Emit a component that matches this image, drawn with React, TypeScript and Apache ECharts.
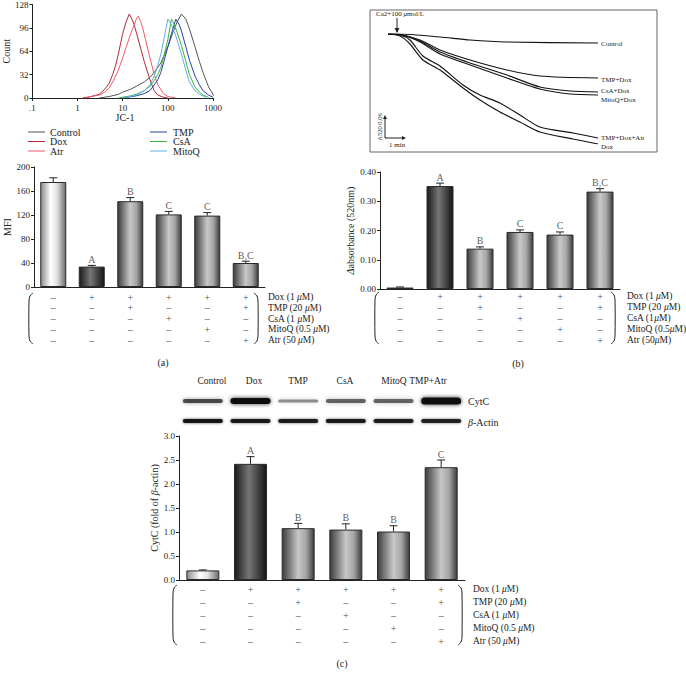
import React, { useEffect, useRef } from "react";
import * as echarts from "echarts";

const FONT = "'Liberation Serif', 'DejaVu Serif', serif";

// ---------- Panel (a) histogram: JC-1 vs Count ----------
const histNames = ["Control", "Dox", "Atr", "TMP", "CsA", "MitoQ"];
const histColors = ["#555555", "#b02838", "#f05868", "#2840a8", "#38b838", "#60aee8"];
const histControl = [[3, 0], [5, 2], [8, 5], [10, 8], [15, 12], [20, 16], [30, 22], [40, 28], [50, 35], [70, 48], [100, 70], [130, 90], [160, 104], [200, 115], [250, 108], [300, 95], [400, 70], [500, 50], [600, 35], [800, 15], [1000, 5], [1150, 0]];
const histDox = [[1.3, 0], [2, 2], [3, 5], [4, 12], [5, 20], [6, 32], [7, 45], [8, 60], [9, 75], [10, 88], [12, 105], [14, 115], [16, 108], [18, 100], [20, 90], [25, 68], [30, 50], [40, 25], [50, 10], [60, 4], [80, 1], [100, 0]];
const histAtr = [[1.5, 0], [2, 2], [3, 4], [4, 8], [5, 14], [6, 22], [8, 38], [10, 55], [12, 70], [15, 88], [18, 100], [20, 108], [22, 112], [25, 105], [28, 95], [32, 80], [40, 55], [50, 32], [60, 18], [80, 6], [100, 2], [150, 0]];
const histTMP = [[10, 0], [20, 3], [30, 6], [40, 10], [50, 18], [60, 25], [70, 35], [80, 48], [100, 70], [120, 88], [150, 108], [180, 100], [200, 92], [250, 70], [300, 52], [400, 30], [500, 18], [600, 10], [800, 4], [1000, 1]];
const histCsA = [[8, 0], [15, 3], [20, 5], [30, 10], [40, 16], [50, 24], [60, 32], [70, 42], [80, 55], [100, 80], [120, 108], [140, 100], [160, 90], [200, 72], [250, 50], [300, 32], [400, 15], [500, 8], [600, 4], [800, 1]];
const histMitoQ = [[10, 0], [20, 4], [30, 10], [40, 18], [50, 30], [60, 45], [70, 60], [80, 78], [100, 108], [120, 100], [150, 85], [200, 60], [250, 38], [300, 22], [400, 10], [500, 5], [700, 1]];
const histData = [histControl, histDox, histAtr, histTMP, histCsA, histMitoQ];

// ---------- Treatment table (shared) ----------
const rowDox = [0, 1, 1, 1, 1, 1];
const rowTMP = [0, 0, 1, 0, 0, 1];
const rowCsA = [0, 0, 0, 1, 0, 0];
const rowMitoQ = [0, 0, 0, 0, 1, 0];
const rowAtr = [0, 0, 0, 0, 0, 1];
const treatRows = [rowDox, rowTMP, rowCsA, rowMitoQ, rowAtr];
const labelsA = ["Dox (1 {i|μ}M)", "TMP (20 {i|μ}M)", "CsA (1 {i|μ}M)", "MitoQ (0.5 {i|μ}M)", "Atr (50 {i|μ}M)"];
const labelsB = ["Dox (1 {i|μ}M)", "TMP (20 {i|μ}M)", "CsA (1{i|μ}M)", "MitoQ (0.5{i|μ}M)", "Atr (50{i|μ}M)"];

// ---------- Panel (a) MFI ----------
const mfiValues = [175, 34, 143, 121, 119, 40];
const mfiErrors = [7, 2, 6, 5, 5, 3];
const mfiLetters = ["", "A", "B", "C", "C", "B,C"];

// ---------- Panel (b) swelling traces ----------
const traceNames = ["Control", "TMP+Dox", "CsA+Dox", "MitoQ+Dox", "TMP+Dox+Atr", "Dox"];
const traceControl = [[0, 0], [0.67, 0], [2.89, 0.009], [4.56, 0.018], [6.61, 0.024], [11.67, 0.027]];
const traceTMPDox = [[0, 0], [0.67, 0.0015], [1.78, 0.018], [2.89, 0.048], [4.56, 0.078], [6.61, 0.108], [8.44, 0.126], [11.67, 0.132]];
const traceCsADox = [[0, 0], [0.67, 0.0015], [1.78, 0.021], [2.89, 0.054], [4.56, 0.087], [6.61, 0.123], [8.44, 0.159], [10.11, 0.171], [11.67, 0.174]];
const traceMitoQDox = [[0, 0], [0.67, 0.0015], [1.78, 0.024], [2.89, 0.06], [4.56, 0.093], [6.61, 0.132], [8.44, 0.165], [10.11, 0.18], [11.67, 0.183]];
const traceTMPDoxAtr = [[0, 0], [0.67, 0.003], [1.22, 0.018], [1.94, 0.066], [2.89, 0.096], [4.17, 0.153], [5.11, 0.183], [6.22, 0.207], [7.33, 0.243], [8.44, 0.279], [10.28, 0.297], [11.67, 0.312]];
const traceDox = [[0, 0], [0.67, 0.006], [1.22, 0.03], [1.94, 0.078], [2.89, 0.108], [4.17, 0.162], [5.11, 0.198], [6.22, 0.234], [7.33, 0.264], [8.44, 0.294], [10.28, 0.315], [11.67, 0.33]];
const traceData = [traceControl, traceTMPDox, traceCsADox, traceMitoQDox, traceTMPDoxAtr, traceDox];
const traceLabelY = [44, 80, 91, 100, 138, 147];

// ---------- Panel (b) absorbance ----------
const absValues = [0.005, 0.352, 0.138, 0.195, 0.186, 0.333];
const absErrors = [0.002, 0.01, 0.006, 0.007, 0.009, 0.01];
const absLetters = ["", "A", "B", "C", "C", "B,C"];

// ---------- Panel (c) CytC ----------
const blotLanes = ["Control", "Dox", "TMP", "CsA", "MitoQ", "TMP+Atr"];
const blotLaneLabelX = [212, 254, 298, 345, 394, 428];
const cytcIntensity = [0.7, 1.0, 0.45, 0.6, 0.6, 1.0];
const cytcThickness = [4, 6, 3, 4, 4, 7];
const actinIntensity = [0.95, 0.92, 0.9, 0.92, 0.9, 0.88];
const actinThickness = [4, 4, 4, 4, 4, 4];
const cytcValues = [0.2, 2.42, 1.08, 1.05, 1.01, 2.35];
const cytcErrors = [0.01, 0.15, 0.1, 0.12, 0.12, 0.15];
const cytcLetters = ["", "A", "B", "B", "B", "C"];

const barStyleKinds = ["white", "dark", "mid", "mid", "mid", "mid"];

function grad(kind: string) {
  if (kind === "white")
    return new echarts.graphic.LinearGradient(0, 0, 1, 0, [
      { offset: 0, color: "#8a8a8a" }, { offset: 0.4, color: "#ffffff" },
      { offset: 0.65, color: "#e2e2e2" }, { offset: 1, color: "#6a6a6a" }]);
  if (kind === "dark")
    return new echarts.graphic.LinearGradient(0, 0, 1, 0, [
      { offset: 0, color: "#1a1a1a" }, { offset: 0.45, color: "#767676" },
      { offset: 0.7, color: "#4a4a4a" }, { offset: 1, color: "#151515" }]);
  return new echarts.graphic.LinearGradient(0, 0, 1, 0, [
    { offset: 0, color: "#3c3c3c" }, { offset: 0.5, color: "#c8c8c8" },
    { offset: 0.75, color: "#a4a4a4" }, { offset: 1, color: "#3c3c3c" }]);
}

function barSeries(xi: number, values: number[], width: number) {
  return {
    type: "bar", xAxisIndex: xi, yAxisIndex: xi, barWidth: width, z: 3,
    data: values.map((v, i) => ({
      value: v,
      itemStyle: { color: grad(barStyleKinds[i]), borderColor: "#2a2a2a", borderWidth: 1 },
    })),
  };
}

function errSeries(xi: number, values: number[], errs: number[], cap: number) {
  return {
    type: "custom", xAxisIndex: xi, yAxisIndex: xi, clip: false, z: 5, silent: true,
    itemStyle: { color: "#222" },
    data: values.map((v, i) => [i, v, errs[i]]),
    renderItem: (params: any, api: any) => {
      const i = api.value(0), v = api.value(1), e = api.value(2);
      const p0 = api.coord([i, v]);
      const p1 = api.coord([i, v + e]);
      return {
        type: "group",
        children: [
          { type: "line", shape: { x1: p0[0], y1: p0[1], x2: p1[0], y2: p1[1] }, style: { stroke: "#222", lineWidth: 1 } },
          { type: "line", shape: { x1: p1[0] - cap, y1: p1[1], x2: p1[0] + cap, y2: p1[1] }, style: { stroke: "#222", lineWidth: 1 } },
        ],
      };
    },
  };
}

function letterSeries(xi: number, values: number[], errs: number[], letters: string[]) {
  return {
    type: "scatter", xAxisIndex: xi, yAxisIndex: xi, symbolSize: 0, silent: true, z: 6, clip: false,
    data: values.map((v, i) => ({ name: letters[i], value: [i, v + errs[i]] })),
    label: {
      show: true, position: "top", distance: 1, formatter: "{b}",
      color: "#333", fontFamily: FONT, fontSize: 10,
    },
  };
}

function tableSeries(xi: number, offset: number, spacing: number) {
  const data: any[] = [];
  treatRows.forEach((row, r) =>
    row.forEach((s, c) =>
      data.push({ name: s ? "+" : "–", value: [c, 0], label: { offset: [0, offset + r * spacing] } })));
  return {
    type: "scatter", xAxisIndex: xi, yAxisIndex: xi, symbolSize: 0, silent: true, z: 6, clip: false,
    data,
    label: {
      show: true, position: "inside", formatter: "{b}",
      color: "#111", fontFamily: FONT, fontSize: 10,
    },
  };
}

function blotSeries(xi: number) {
  return {
    type: "custom", xAxisIndex: xi, yAxisIndex: xi, clip: false, silent: true, z: 2,
    itemStyle: { color: "#111" },
    data: blotLanes.map((_, i) => [i, 0]),
    renderItem: (params: any, api: any) => {
      const i = api.value(0);
      const top = api.coord([i, 3.0]);
      const cx = top[0];
      const w = 40;
      const yc = top[1] - 35;
      const ya = top[1] - 15;
      const ci = cytcIntensity[i], ch = cytcThickness[i];
      const ai = actinIntensity[i], ah = actinThickness[i];
      return {
        type: "group",
        children: [
          { type: "rect", shape: { x: cx - w / 2, y: yc - ch / 2, width: w, height: ch, r: ch / 2 },
            style: { fill: `rgba(15,15,15,${ci})`, shadowBlur: 4, shadowColor: `rgba(15,15,15,${ci * 0.8})` } },
          { type: "rect", shape: { x: cx - w / 2, y: ya - ah / 2, width: w, height: ah, r: ah / 2 },
            style: { fill: `rgba(15,15,15,${ai})`, shadowBlur: 3, shadowColor: `rgba(15,15,15,${ai * 0.7})` } },
        ],
      };
    },
  };
}

function valueYAxis(gi: number, min: number, max: number, interval: number, name: string, nameGap: number, digits: number) {
  return {
    type: "value", gridIndex: gi, min, max, interval, name, nameLocation: "middle", nameGap,
    nameTextStyle: { fontFamily: FONT, fontSize: 10, color: "#222", rich: { i: { fontFamily: FONT, fontSize: 10, fontStyle: "italic", color: "#222" } } },
    axisLine: { show: true, lineStyle: { color: "#222", width: 1 } },
    axisTick: { show: true, length: 3, lineStyle: { color: "#222" } },
    axisLabel: { fontFamily: FONT, fontSize: 9, color: "#222", margin: 4, formatter: (v: number) => v.toFixed(digits) },
    splitLine: { show: false },
  };
}

function catXAxis(gi: number) {
  return {
    type: "category", gridIndex: gi, data: [0, 1, 2, 3, 4, 5].map(String),
    axisLine: { show: true, lineStyle: { color: "#222", width: 1 } },
    axisTick: { show: false }, axisLabel: { show: false },
  };
}

function txt(x: number, y: number, text: string, size: number, extra: any = {}) {
  return {
    type: "text", x, y, silent: true,
    style: { text, font: `${size}px ${FONT}`, fill: "#222", align: "left", verticalAlign: "middle",
      rich: { i: { fontFamily: FONT, fontSize: size, fontStyle: "italic", fill: "#222" } }, ...extra.style },
    ...(extra.el || {}),
  };
}

function bracket(xl: number, xr: number, y0: number, y1: number) {
  return [
    { type: "polyline", silent: true, shape: { points: [[xl + 4, y0], [xl + 1, y0 + 3], [xl, y0 + 8], [xl, y1 - 8], [xl + 1, y1 - 3], [xl + 4, y1]], smooth: 0.3 },
      style: { stroke: "#222", lineWidth: 1, fill: "none" } },
    { type: "polyline", silent: true, shape: { points: [[xr - 4, y0], [xr - 1, y0 + 3], [xr, y0 + 8], [xr, y1 - 8], [xr - 1, y1 - 3], [xr - 4, y1]], smooth: 0.3 },
      style: { stroke: "#222", lineWidth: 1, fill: "none" } },
  ];
}

function tableLabels(x: number, y0: number, spacing: number, labels: string[]) {
  return labels.map((l, r) => txt(x, y0 + r * spacing, l, 9.5));
}

export default function App() {
  const ref = useRef<HTMLDivElement>(null);
  useEffect(() => {
    if (!ref.current) return;
    const chart = echarts.init(ref.current, null, { renderer: "svg" });

    const graphic: any[] = [
      // histogram labels & legend
      txt(125, 117, "JC-1", 10, { style: { align: "center" } }),
      ...histNames.map((n, i) => {
        const col = i < 3 ? 0 : 1;
        const row = i % 3;
        const lx = col === 0 ? 28 : 150;
        const y = 132 + row * 9.5;
        return { type: "line", silent: true, shape: { x1: lx, y1: y, x2: lx + 17, y2: y }, style: { stroke: histColors[i], lineWidth: 1 } };
      }),
      ...histNames.map((n, i) => {
        const col = i < 3 ? 0 : 1;
        const row = i % 3;
        return txt(col === 0 ? 50 : 173, 132 + row * 9.5, n, 10);
      }),
      // panel (a) table
      ...bracket(29, 258, 293, 344),
      ...tableLabels(268, 297, 10.8, labelsA),
      txt(163, 362, "(a)", 10, { style: { align: "center" } }),
      // panel (b) trace box
      { type: "rect", silent: true, shape: { x: 370, y: 10, width: 287, height: 142 }, style: { fill: "none", stroke: "#666", lineWidth: 1 } },
      txt(376, 14, "Ca2+100 {i|μ}mol/L", 7),
      { type: "line", silent: true, shape: { x1: 397, y1: 18, x2: 397, y2: 32 }, style: { stroke: "#222", lineWidth: 1 } },
      { type: "polygon", silent: true, shape: { points: [[394.5, 28], [399.5, 28], [397, 33]] }, style: { fill: "#222" } },
      ...traceNames.map((n, i) => txt(601, traceLabelY[i], n, 7)),
      { type: "polyline", silent: true, shape: { points: [[385, 117], [385, 138], [404, 138]] }, style: { stroke: "#222", lineWidth: 1, fill: "none" } },
      { type: "polygon", silent: true, shape: { points: [[383, 119], [387, 119], [385, 115]] }, style: { fill: "#222" } },
      { type: "polygon", silent: true, shape: { points: [[402, 136], [402, 140], [406, 138]] }, style: { fill: "#222" } },
      txt(379, 127, "A520 0.06", 6.5, { style: { align: "center" }, el: { rotation: Math.PI / 2 } }),
      txt(389, 145, "1 min", 7),
      // panel (b) table
      ...bracket(375, 615, 292, 344),
      ...tableLabels(627, 296, 11, labelsB),
      txt(518, 363, "(b)", 10, { style: { align: "center" } }),
      // panel (c) blot
      ...blotLanes.map((n, i) => txt(blotLaneLabelX[i], 381, n, 9.5, { style: { align: "center" } })),
      txt(468, 401, "CytC", 10),
      txt(468, 422, "{i|β}-Actin", 10),
      // panel (c) table
      ...bracket(173, 462, 585, 645),
      ...tableLabels(473, 589, 13, labelsA),
      txt(342, 663, "(c)", 10, { style: { align: "center" } }),
    ];

    const option: any = {
      animation: false,
      backgroundColor: "#ffffff",
      textStyle: { fontFamily: FONT },
      grid: [
        { left: 29, top: 4, width: 184, height: 94 },
        { left: 34, top: 167, width: 231, height: 120 },
        { left: 388, top: 34, width: 210, height: 110 },
        { left: 380, top: 172, width: 240, height: 117 },
        { left: 179, top: 436, width: 286, height: 144 },
      ],
      xAxis: [
        {
          type: "log", logBase: 10, gridIndex: 0, min: 0.1, max: 1000,
          axisLine: { show: true, lineStyle: { color: "#222" } },
          axisTick: { show: true, length: 3, lineStyle: { color: "#222" } },
          minorTick: { show: false },
          axisLabel: { fontFamily: FONT, fontSize: 9, color: "#222", margin: 5, formatter: (v: number) => (v < 0.5 ? ".1" : String(Math.round(v))) },
          splitLine: { show: false },
        },
        catXAxis(1),
        { type: "value", gridIndex: 2, min: 0, max: 11.67, show: false },
        catXAxis(3),
        catXAxis(4),
      ],
      yAxis: [
        valueYAxis(0, 0, 128, 32, "Count", 17, 0),
        valueYAxis(1, 0, 200, 40, "MFI", 20, 0),
        { type: "value", gridIndex: 2, min: 0, max: 0.33, inverse: true, show: false },
        valueYAxis(3, 0, 0.4, 0.1, "{i|Δ}absorbance (520nm)", 25, 2),
        valueYAxis(4, 0, 3.0, 0.5, "CytC (fold of {i|β}-actin)", 17, 1),
      ],
      series: [
        ...histData.map((d, i) => ({
          type: "line", name: histNames[i], xAxisIndex: 0, yAxisIndex: 0, data: d,
          showSymbol: false, symbol: "none", lineStyle: { color: histColors[i], width: 1 }, z: 2,
        })),
        barSeries(1, mfiValues, 26),
        errSeries(1, mfiValues, mfiErrors, 4),
        letterSeries(1, mfiValues, mfiErrors, mfiLetters),
        tableSeries(1, 10, 10.8),
        ...traceData.map((d, i) => ({
          type: "line", name: traceNames[i], xAxisIndex: 2, yAxisIndex: 2, data: d,
          showSymbol: false, symbol: "none", smooth: 0.25, lineStyle: { color: "#111", width: 1.1 },
        })),
        barSeries(3, absValues, 27),
        errSeries(3, absValues, absErrors, 4),
        letterSeries(3, absValues, absErrors, absLetters),
        tableSeries(3, 7, 11),
        blotSeries(4),
        barSeries(4, cytcValues, 33),
        errSeries(4, cytcValues, cytcErrors, 4),
        letterSeries(4, cytcValues, cytcErrors, cytcLetters),
        tableSeries(4, 9, 13),
      ],
      graphic,
    };
    chart.setOption(option);
    return () => chart.dispose();
  }, []);
  return <div ref={ref} style={{ position: "fixed", left: 0, top: 0, width: 686, height: 678, background: "#fff" }} />;
}
